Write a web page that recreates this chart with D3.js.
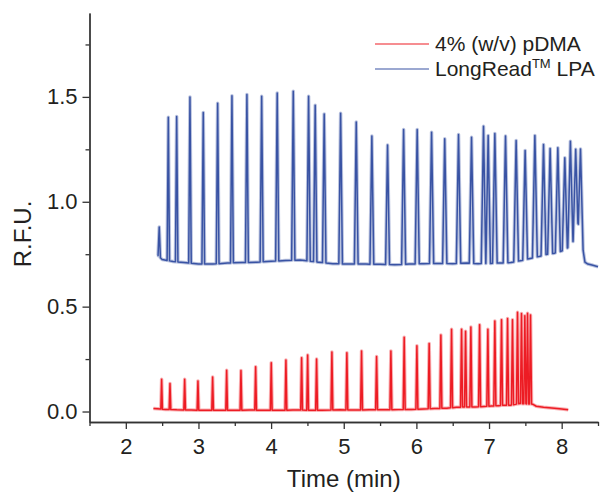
<!DOCTYPE html>
<html>
<head>
<meta charset="utf-8">
<script src="https://cdn.jsdelivr.net/npm/d3@7"></script>
<style>
  body { margin: 0; background: #fff; }
  svg { font-family: "Liberation Sans", Arial, sans-serif; }
  .axis path, .axis line { stroke: #333; stroke-width: 1.3; }
  .axis text { fill: #231f20; font-size: 22px; }
</style>
</head>
<body>
<div id="chart"></div>
<script>
// Peak apexes: time (min) and R.F.U.
const blueTimes = [2.46, 2.585, 2.70, 2.883, 3.066, 3.264, 3.461, 3.667, 3.87, 4.084, 4.305, 4.516, 4.607, 4.731, 4.957, 5.172, 5.387, 5.603, 5.824, 6.011, 6.209, 6.39, 6.58, 6.759, 6.924, 6.988, 7.08, 7.227, 7.373, 7.497, 7.631, 7.75, 7.841, 7.947, 8.043, 8.12, 8.193, 8.259];
const blueHeights = [0.88, 1.403, 1.407, 1.50, 1.426, 1.47, 1.505, 1.511, 1.503, 1.518, 1.527, 1.503, 1.46, 1.419, 1.422, 1.38, 1.313, 1.271, 1.345, 1.345, 1.332, 1.30, 1.321, 1.308, 1.36, 1.316, 1.326, 1.314, 1.292, 1.245, 1.316, 1.273, 1.254, 1.257, 1.21, 1.289, 1.25, 1.252];

const redTimes = [2.493, 2.608, 2.81, 2.993, 3.195, 3.388, 3.585, 3.787, 4.002, 4.204, 4.42, 4.503, 4.626, 4.837, 5.043, 5.245, 5.452, 5.649, 5.832, 6.007, 6.176, 6.337, 6.484, 6.622, 6.677, 6.75, 6.87, 6.984, 7.08, 7.172, 7.255, 7.323, 7.392, 7.447, 7.493, 7.53, 7.571];
const redHeights = [0.154, 0.133, 0.154, 0.146, 0.165, 0.197, 0.195, 0.214, 0.232, 0.246, 0.256, 0.27, 0.25, 0.284, 0.28, 0.289, 0.262, 0.289, 0.354, 0.313, 0.324, 0.365, 0.392, 0.392, 0.383, 0.403, 0.414, 0.392, 0.432, 0.437, 0.443, 0.437, 0.473, 0.467, 0.456, 0.469, 0.46];

// Baseline levels between the peaks
const blueBaseTimes = [2.44, 2.5, 2.65, 2.8, 3.0, 3.2, 3.4, 3.6, 3.8, 4.0, 4.2, 4.4, 4.65, 4.85, 5.05, 5.3, 5.5, 5.7, 5.9, 6.1, 6.3, 6.5, 6.7, 6.85, 7.0, 7.15, 7.3, 7.45, 7.57, 7.7, 7.8, 7.9, 8.0, 8.08, 8.155, 8.225, 8.29, 8.32, 8.36, 8.43, 8.5];
const blueBaseValues = [0.745, 0.725, 0.715, 0.71, 0.703, 0.703, 0.708, 0.71, 0.712, 0.716, 0.72, 0.722, 0.712, 0.705, 0.703, 0.703, 0.702, 0.70, 0.703, 0.705, 0.706, 0.705, 0.708, 0.705, 0.706, 0.708, 0.71, 0.72, 0.73, 0.74, 0.75, 0.755, 0.765, 0.78, 0.81, 0.9, 0.78, 0.712, 0.703, 0.697, 0.69];

const redBaseTimes = [2.38, 2.55, 2.7, 2.9, 3.1, 3.3, 3.5, 3.7, 3.9, 4.1, 4.3, 4.7, 4.95, 5.15, 5.35, 5.55, 5.75, 5.93, 6.1, 6.25, 6.42, 6.55, 6.71, 6.81, 6.93, 7.03, 7.13, 7.21, 7.29, 7.36, 7.42, 7.6, 7.65, 7.75, 7.9, 8.0, 8.09];
const redBaseValues = [0.014, 0.01, 0.008, 0.007, 0.006, 0.006, 0.006, 0.007, 0.006, 0.006, 0.007, 0.006, 0.008, 0.007, 0.008, 0.008, 0.009, 0.01, 0.012, 0.014, 0.016, 0.02, 0.022, 0.022, 0.024, 0.026, 0.028, 0.03, 0.03, 0.034, 0.038, 0.035, 0.025, 0.02, 0.016, 0.012, 0.008];

const xTicks = [2, 3, 4, 5, 6, 7, 8];
const xMinorTicks = [1.5, 2.5, 3.5, 4.5, 5.5, 6.5, 7.5, 8.5];
const yTicks = [0, 0.5, 1.0, 1.5];
const yMinorTicks = [0.25, 0.75, 1.25, 1.75];

const series = [
  { name: "pdma", color: "#ed1c24", times: redTimes, heights: redHeights, baseT: redBaseTimes, baseV: redBaseValues, halfWidth: [0.011, 0.015] },
  { name: "lpa", color: "#3953a4", times: blueTimes, heights: blueHeights, baseT: blueBaseTimes, baseV: blueBaseValues, halfWidth: [0.016, 0.036] }
];

const width = 601;
const height = 493;
const margin = { top: 13, right: 3, bottom: 71, left: 89.5 };
const innerWidth = width - margin.left - margin.right;
const innerHeight = height - margin.top - margin.bottom;

const svg = d3.select("#chart")
  .append("svg")
    .attr("width", width)
    .attr("height", height);

const innerChart = svg
  .append("g")
    .attr("transform", `translate(${margin.left}, ${margin.top})`);

/* Scales */
const xScale = d3.scaleLinear()
  .domain([1.5, 8.5])
  .range([0, innerWidth]);

const yScale = d3.scaleLinear()
  .domain([-0.05, 1.9])
  .range([innerHeight, 0]);

/* Axes */
// minor ticks, no labels
innerChart
  .append("g")
    .attr("class", "axis")
    .attr("transform", `translate(0, ${innerHeight})`)
    .call(d3.axisBottom(xScale).tickValues(xMinorTicks).tickSize(4).tickSizeOuter(0))
    .call(g => g.selectAll("text").remove());
innerChart
  .append("g")
    .attr("class", "axis")
    .attr("transform", `translate(0, ${innerHeight})`)
    .call(d3.axisBottom(xScale).tickValues(xTicks).tickSize(7).tickSizeOuter(0).tickPadding(9).tickFormat(d3.format("d")));

innerChart
  .append("g")
    .attr("class", "axis")
    .call(d3.axisLeft(yScale).tickValues(yMinorTicks).tickSize(4).tickSizeOuter(0))
    .call(g => g.selectAll("text").remove());
innerChart
  .append("g")
    .attr("class", "axis")
    .call(d3.axisLeft(yScale).tickValues(yTicks).tickSize(7).tickSizeOuter(0).tickPadding(5).tickFormat(d3.format(".1f")));

svg.selectAll(".axis text").attr("fill", "#231f20");

// Axis labels
svg
  .append("text")
    .text("Time (min)")
    .attr("x", margin.left + innerWidth / 2)
    .attr("y", 487)
    .attr("text-anchor", "middle")
    .attr("font-size", 24)
    .attr("fill", "#231f20");
svg
  .append("text")
    .text("R.F.U.")
    .attr("transform", "translate(31, 234) rotate(-90)")
    .attr("text-anchor", "middle")
    .attr("font-size", 24)
    .attr("fill", "#231f20");

/* Traces */
const buildTrace = (s) => {
  const widthScale = d3.scaleLinear().domain([2.4, 8.3]).range(s.halfWidth);
  const baseScale = d3.scaleLinear().domain(s.baseT).range(s.baseV);
  const pts = [];
  const windows = s.times.map(t => [t - widthScale(t), t + widthScale(t)]);
  s.baseT.forEach((t, i) => {
    if (!windows.some(w => t > w[0] && t < w[1])) pts.push([t, s.baseV[i]]);
  });
  s.times.forEach((t, i) => {
    const w = widthScale(t);
    pts.push([t - w, baseScale(t - w)]);
    pts.push([t, s.heights[i]]);
    pts.push([t + w, baseScale(t + w)]);
  });
  return pts.sort((a, b) => a[0] - b[0]);
};

const lineGenerator = d3.line()
  .x(d => xScale(d[0]))
  .y(d => yScale(d[1]));

series.forEach(s => {
  const pts = buildTrace(s);
  innerChart
    .append("path")
      .attr("d", lineGenerator(pts))
      .attr("fill", "none")
      .attr("stroke", s.color)
      .attr("stroke-opacity", 0.35)
      .attr("stroke-width", 3.5)
      .attr("stroke-linejoin", "round");
  innerChart
    .append("path")
      .attr("class", `trace trace-${s.name}`)
      .attr("d", lineGenerator(pts))
      .attr("fill", "none")
      .attr("stroke", s.color)
      .attr("stroke-width", 1.5)
      .attr("stroke-linejoin", "round");
});

/* Legend */
const legend = svg.append("g");
const legendRows = [
  { color: "#ed1c24", y: 44 },
  { color: "#3953a4", y: 69 }
];
legend.selectAll("line")
  .data(legendRows)
  .join("line")
    .attr("x1", 375)
    .attr("x2", 429)
    .attr("y1", d => d.y)
    .attr("y2", d => d.y)
    .attr("stroke", d => d.color)
    .attr("stroke-width", 1.2);

legend
  .append("text")
    .attr("x", 435)
    .attr("y", 51)
    .attr("font-size", 21)
    .attr("fill", "#231f20")
    .text("4% (w/v) pDMA");

const lpaLabel = legend
  .append("text")
    .attr("x", 435)
    .attr("y", 76)
    .attr("font-size", 21)
    .attr("fill", "#231f20");
lpaLabel.append("tspan").text("LongRead");
lpaLabel.append("tspan").attr("font-size", 13).attr("dy", -8).text("TM");
lpaLabel.append("tspan").attr("dy", 8).text(" LPA");
</script>
</body>
</html>
